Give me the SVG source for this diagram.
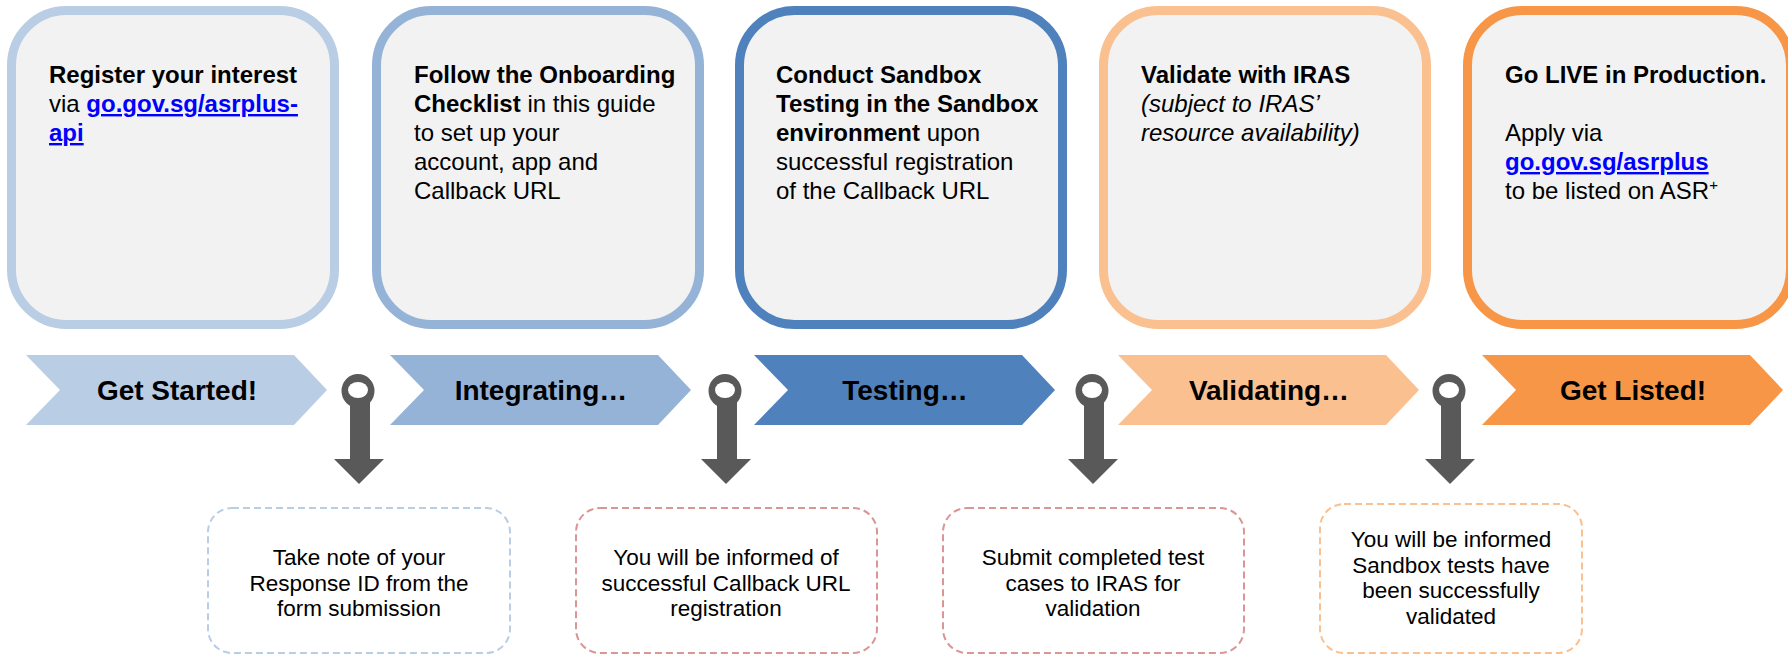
<svg xmlns="http://www.w3.org/2000/svg" width="1788" height="655" viewBox="0 0 1788 655">
<defs>
<style>
.card{fill:#F2F2F2;stroke-width:9}
.t{font-family:"Liberation Sans",Arial,sans-serif;font-size:24px;fill:#000}
.b{font-weight:bold}
.i{font-style:italic}
.lnk{font-weight:bold;fill:#0000FF;text-decoration:underline}
.chev-t{font-family:"Liberation Sans",Arial,sans-serif;font-size:28px;font-weight:bold;fill:#000;text-anchor:middle}
.note{fill:#FFFFFF;stroke-width:2;stroke-dasharray:7 4}
.nt{font-family:"Liberation Sans",Arial,sans-serif;font-size:22.5px;fill:#000;text-anchor:middle}
.pin{fill:#595959}
</style>
</defs>
<rect width="1788" height="655" fill="#FFFFFF"/>

<g id="card1">
<rect class="card" x="11.5" y="10.5" width="323" height="314" rx="55" stroke="#B9CDE5"/>
<text class="t" x="49" y="83"><tspan class="b">Register your interest</tspan></text>
<text class="t" x="49" y="112">via <tspan class="lnk">go.gov.sg/asrplus-</tspan></text>
<text class="t" x="49" y="141"><tspan class="lnk">api</tspan></text>
</g>

<g id="card2">
<rect class="card" x="376.5" y="10.5" width="323" height="314" rx="55" stroke="#95B3D7"/>
<text class="t" x="414" y="83"><tspan class="b">Follow the Onboarding</tspan></text>
<text class="t" x="414" y="112"><tspan class="b">Checklist</tspan> in this guide</text>
<text class="t" x="414" y="141">to set up your</text>
<text class="t" x="414" y="170">account, app and</text>
<text class="t" x="414" y="199">Callback URL</text>
</g>

<g id="card3">
<rect class="card" x="739.5" y="10.5" width="323" height="314" rx="55" stroke="#4F81BD"/>
<text class="t" x="776" y="83"><tspan class="b">Conduct Sandbox</tspan></text>
<text class="t" x="776" y="112"><tspan class="b">Testing in the Sandbox</tspan></text>
<text class="t" x="776" y="141"><tspan class="b">environment</tspan> upon</text>
<text class="t" x="776" y="170">successful registration</text>
<text class="t" x="776" y="199">of the Callback URL</text>
</g>

<g id="card4">
<rect class="card" x="1103.5" y="10.5" width="323" height="314" rx="55" stroke="#FAC090"/>
<text class="t" x="1141" y="83"><tspan class="b">Validate with IRAS</tspan></text>
<text class="t i" x="1141" y="112">(subject to IRAS’</text>
<text class="t i" x="1141" y="141">resource availability)</text>
</g>

<g id="card5">
<rect class="card" x="1467.5" y="10.5" width="323" height="314" rx="55" stroke="#F79646"/>
<text class="t" x="1505" y="83"><tspan class="b">Go LIVE in Production.</tspan></text>
<text class="t" x="1505" y="141">Apply via</text>
<text class="t" x="1505" y="170"><tspan class="lnk">go.gov.sg/asrplus</tspan></text>
<text class="t" x="1505" y="199">to be listed on ASR<tspan font-size="15" dy="-9">+</tspan></text>
</g>

<g id="stage1">
<polygon points="26,355 294,355 327,390 294,425 26,425 60,390" fill="#B9CDE5"/>
<text class="chev-t" x="177" y="400">Get Started!</text>
</g>
<g id="stage2">
<polygon points="390,355 658,355 691,390 658,425 390,425 424,390" fill="#95B3D7"/>
<text class="chev-t" x="541" y="400">Integrating…</text>
</g>
<g id="stage3">
<polygon points="754,355 1022,355 1055,390 1022,425 754,425 788,390" fill="#4F81BD"/>
<text class="chev-t" x="905" y="400">Testing…</text>
</g>
<g id="stage4">
<polygon points="1118,355 1386,355 1419,390 1386,425 1118,425 1152,390" fill="#FAC090"/>
<text class="chev-t" x="1269" y="400">Validating…</text>
</g>
<g id="stage5">
<polygon points="1482,355 1750,355 1783,390 1750,425 1482,425 1516,390" fill="#F79646"/>
<text class="chev-t" x="1633" y="400">Get Listed!</text>
</g>

<g id="connectors">
<g id="pin1">
<rect class="pin" x="350" y="398" width="20" height="62"/>
<ellipse class="pin" cx="358" cy="391" rx="16.5" ry="17"/>
<ellipse cx="358" cy="390" rx="10" ry="8" fill="#FFFFFF"/>
<polygon class="pin" points="334,459 384,459 359,484"/>
</g>
<g id="pin2">
<rect class="pin" x="717" y="398" width="20" height="62"/>
<ellipse class="pin" cx="725" cy="391" rx="16.5" ry="17"/>
<ellipse cx="725" cy="390" rx="10" ry="8" fill="#FFFFFF"/>
<polygon class="pin" points="701,459 751,459 726,484"/>
</g>
<g id="pin3">
<rect class="pin" x="1084" y="398" width="20" height="62"/>
<ellipse class="pin" cx="1092" cy="391" rx="16.5" ry="17"/>
<ellipse cx="1092" cy="390" rx="10" ry="8" fill="#FFFFFF"/>
<polygon class="pin" points="1068,459 1118,459 1093,484"/>
</g>
<g id="pin4">
<rect class="pin" x="1441" y="398" width="20" height="62"/>
<ellipse class="pin" cx="1449" cy="391" rx="16.5" ry="17"/>
<ellipse cx="1449" cy="390" rx="10" ry="8" fill="#FFFFFF"/>
<polygon class="pin" points="1425,459 1475,459 1450,484"/>
</g>
</g>

<g id="note1">
<rect class="note" x="208" y="508" width="302" height="145" rx="24" stroke="#B9CDE5"/>
<text class="nt" x="359" y="565">Take note of your</text>
<text class="nt" x="359" y="591">Response ID from the</text>
<text class="nt" x="359" y="616">form submission</text>
</g>
<g id="note2">
<rect class="note" x="576" y="508" width="301" height="145" rx="24" stroke="#DA9694"/>
<text class="nt" x="726" y="565">You will be informed of</text>
<text class="nt" x="726" y="591">successful Callback URL</text>
<text class="nt" x="726" y="616">registration</text>
</g>
<g id="note3">
<rect class="note" x="943" y="508" width="301" height="145" rx="24" stroke="#DA9694"/>
<text class="nt" x="1093" y="565">Submit completed test</text>
<text class="nt" x="1093" y="591">cases to IRAS for</text>
<text class="nt" x="1093" y="616">validation</text>
</g>
<g id="note4">
<rect class="note" x="1320" y="504" width="262" height="149" rx="24" stroke="#FAC090"/>
<text class="nt" x="1451" y="547">You will be informed</text>
<text class="nt" x="1451" y="573">Sandbox tests have</text>
<text class="nt" x="1451" y="598">been successfully</text>
<text class="nt" x="1451" y="624">validated</text>
</g>
</svg>
